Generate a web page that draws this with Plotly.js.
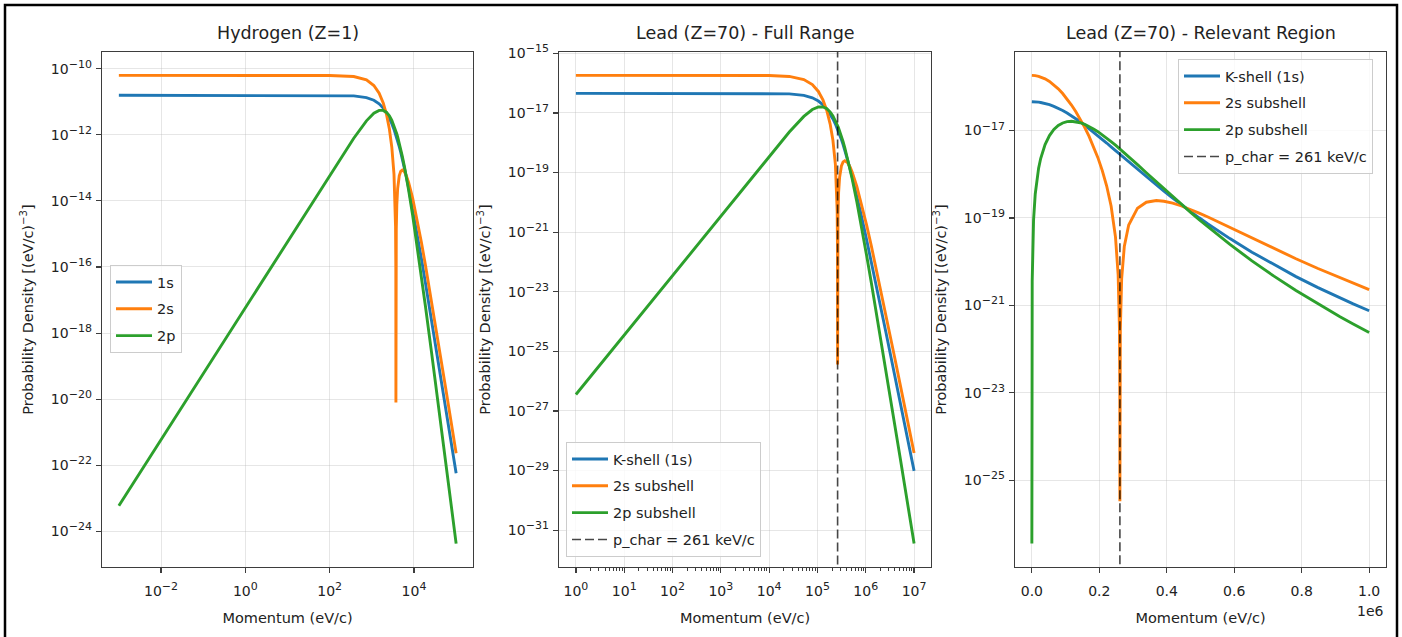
<!DOCTYPE html>
<html><head><meta charset="utf-8">
<script src="https://cdn.plot.ly/plotly-3.0.1.min.js"></script>
<style>html,body{margin:0;padding:0;background:#fff;} #chart{width:1402px;height:637px;}</style>
</head><body><div id="chart"></div>
<script>
// ---------- Hydrogen (Z=1), momentum in eV/c ----------
const hP = [0.001, 0.01, 0.1, 1, 10, 100, 372.9, 745.8, 1118.7, 1491.6, 1864.5, 2237.3, 2610.2, 2983.1, 3356.0, 3542.5, 3654.3, 3710.3, 3728.9, 3747.5, 3803.5, 3915.3, 4101.8, 4474.7, 4847.6, 5273.5, 5966.2, 6712.0, 7457.8, 9322.3, 11187, 14916, 18645, 26102, 37289, 55934, 74578, 100000];
const h1s = [1.5633e-11, 1.5633e-11, 1.5633e-11, 1.5633e-11, 1.5633e-11, 1.5588e-11, 1.5023e-11, 1.3363e-11, 1.1074e-11, 8.634e-12, 6.403e-12, 4.570e-12, 3.172e-12, 2.161e-12, 1.4565e-12, 1.1933e-12, 1.0584e-12, 9.968e-13, 9.771e-13, 9.577e-13, 9.019e-13, 8.000e-13, 6.553e-13, 4.410e-13, 2.9856e-13, 1.930e-13, 9.733e-14, 4.837e-14, 2.501e-14, 5.658e-15, 1.5633e-15, 1.8717e-16, 3.421e-17, 2.501e-18, 1.5023e-19, 5.992e-21, 6.046e-22, 5.795e-23];
const h2s = [6.253e-11, 6.253e-11, 6.253e-11, 6.253e-11, 6.253e-11, 6.217e-11, 5.773e-11, 4.555e-11, 3.088e-11, 1.811e-11, 9.221e-12, 4.048e-12, 1.4863e-12, 4.165e-13, 6.420e-14, 1.2537e-14, 1.7277e-15, 1.0017e-16, 8e-21, 9.530e-17, 1.4144e-15, 7.606e-15, 2.3668e-14, 5.737e-14, 7.858e-14, 8.577e-14, 7.475e-14, 5.400e-14, 3.602e-14, 1.1868e-14, 4.002e-15, 5.828e-16, 1.1659e-16, 9.221e-18, 5.773e-19, 2.3546e-20, 2.3943e-21, 2.307e-22];
const h2p = [5.998e-24, 5.998e-22, 5.998e-20, 5.998e-18, 5.998e-16, 5.969e-14, 7.853e-13, 2.635e-12, 4.474e-12, 5.475e-12, 5.464e-12, 4.743e-12, 3.733e-12, 2.742e-12, 1.9208e-12, 1.5865e-12, 1.4106e-12, 1.3289e-12, 1.3027e-12, 1.2768e-12, 1.2020e-12, 1.0640e-12, 8.658e-13, 5.689e-13, 3.718e-13, 2.2872e-13, 1.0485e-13, 4.649e-14, 2.1343e-14, 3.588e-15, 7.503e-16, 5.527e-17, 6.747e-18, 2.6145e-19, 7.853e-21, 1.4078e-22, 8.020e-24, 4.285e-25];

// ---------- Lead (Z=70), full range (log momentum) ----------
const leadP = [1, 10, 100, 1000, 10000, 26102, 52205, 78307, 104409, 130512, 156614, 182716, 208818, 234921, 247972, 255803, 259718, 261023, 262328, 266243, 274074, 287125, 313228, 339330, 369146, 417637, 469841, 522046, 652558, 783069, 1044092, 1305115, 1827161, 2610230, 3915345, 5220460, 10000000];
const lead1s = [4.5577e-17, 4.5577e-17, 4.5577e-17, 4.5574e-17, 4.5310e-17, 4.3799e-17, 3.8959e-17, 3.2287e-17, 2.5172e-17, 1.8668e-17, 1.3322e-17, 9.248e-18, 6.301e-18, 4.2464e-18, 3.4789e-18, 3.0856e-18, 2.9060e-18, 2.8486e-18, 2.7920e-18, 2.6293e-18, 2.3322e-18, 1.9106e-18, 1.2857e-18, 8.704e-19, 5.627e-19, 2.8376e-19, 1.4102e-19, 7.292e-20, 1.6497e-20, 4.5577e-21, 5.457e-22, 9.974e-23, 7.292e-24, 4.380e-25, 1.7470e-26, 1.7626e-27, 9.790e-30];
const lead2s = [1.8231e-16, 1.8231e-16, 1.8231e-16, 1.8229e-16, 1.8018e-16, 1.6833e-16, 1.3279e-16, 9.003e-17, 5.280e-17, 2.6883e-17, 1.1801e-17, 4.3335e-18, 1.2144e-18, 1.8718e-19, 3.6553e-20, 5.037e-21, 2.9206e-22, 3.6e-26, 2.7784e-22, 4.1239e-21, 2.2174e-20, 6.900e-20, 1.6725e-19, 2.2909e-19, 2.5008e-19, 2.1795e-19, 1.5742e-19, 1.0501e-19, 3.4602e-20, 1.1668e-20, 1.6993e-21, 3.3994e-22, 2.6883e-23, 1.6833e-24, 6.865e-26, 6.981e-27, 3.907e-29];
const lead2p = [3.5676e-27, 3.5676e-25, 3.5676e-23, 3.5675e-21, 3.5362e-19, 2.2897e-18, 7.683e-18, 1.3043e-17, 1.5962e-17, 1.5931e-17, 1.3828e-17, 1.0885e-17, 7.995e-18, 5.600e-18, 4.6256e-18, 4.1127e-18, 3.8745e-18, 3.7980e-18, 3.7226e-18, 3.5046e-18, 3.1023e-18, 2.5243e-18, 1.6587e-18, 1.0841e-18, 6.669e-19, 3.0569e-19, 1.3554e-19, 6.223e-20, 1.0462e-20, 2.1876e-21, 1.6113e-22, 1.9672e-23, 7.623e-25, 2.2897e-26, 4.1045e-28, 2.3383e-29, 3.554e-32];

// ---------- Lead (Z=70), relevant region (linear momentum) ----------
const relP = [1, 1000, 5000, 10000, 20000, 26102, 39153, 52205, 65256, 78307, 91358, 104409, 117460, 130512, 143563, 156614, 169665, 182716, 195767, 208818, 221870, 234921, 247972, 255803, 259718, 260762, 261023, 261284, 262328, 266243, 274074, 287125, 313228, 339330, 369146, 391535, 417637, 443739, 469841, 495944, 522046, 587302, 652558, 717813, 783069, 848325, 913581, 952734, 1000000];
const rel1s = [4.5577e-17, 4.5574e-17, 4.5510e-17, 4.5310e-17, 4.4522e-17, 4.3799e-17, 4.1696e-17, 3.8959e-17, 3.5763e-17, 3.2287e-17, 2.8708e-17, 2.5172e-17, 2.1797e-17, 1.8668e-17, 1.5835e-17, 1.3322e-17, 1.1131e-17, 9.248e-18, 7.6465e-18, 6.301e-18, 5.1773e-18, 4.2464e-18, 3.4789e-18, 3.0856e-18, 2.9060e-18, 2.8600e-18, 2.8486e-18, 2.8372e-18, 2.7920e-18, 2.6293e-18, 2.3322e-18, 1.9106e-18, 1.2857e-18, 8.704e-19, 5.627e-19, 4.0852e-19, 2.8376e-19, 1.9904e-19, 1.4102e-19, 1.0091e-19, 7.292e-20, 3.3739e-20, 1.6497e-20, 8.4789e-21, 4.5577e-21, 2.5500e-21, 1.4787e-21, 1.0831e-21, 7.546e-22];
const rel2s = [1.8231e-16, 1.8229e-16, 1.8178e-16, 1.8018e-16, 1.7396e-16, 1.6833e-16, 1.5243e-16, 1.3279e-16, 1.1137e-16, 9.003e-17, 7.0175e-17, 5.280e-17, 3.8349e-17, 2.6883e-17, 1.8164e-17, 1.1801e-17, 7.3383e-18, 4.3335e-18, 2.3979e-18, 1.2144e-18, 5.3750e-19, 1.8718e-19, 3.6553e-20, 5.037e-21, 2.9206e-22, 1.145e-23, 3.3e-26, 1.134e-23, 2.7784e-22, 4.1239e-21, 2.2174e-20, 6.900e-20, 1.6725e-19, 2.2909e-19, 2.5008e-19, 2.4173e-19, 2.1795e-19, 1.8795e-19, 1.5742e-19, 1.2938e-19, 1.0501e-19, 6.0602e-20, 3.4602e-20, 1.9922e-20, 1.1668e-20, 6.9766e-21, 4.2641e-21, 3.2070e-21, 2.2973e-21];
const rel2p = [3.5676e-27, 3.5675e-21, 8.899e-20, 3.5362e-19, 1.3778e-18, 2.2897e-18, 4.7856e-18, 7.683e-18, 1.0559e-17, 1.3043e-17, 1.4885e-17, 1.5962e-17, 1.6280e-17, 1.5931e-17, 1.5058e-17, 1.3828e-17, 1.2395e-17, 1.0885e-17, 9.3959e-18, 7.995e-18, 6.7238e-18, 5.600e-18, 4.6256e-18, 4.1127e-18, 3.8745e-18, 3.8133e-18, 3.7980e-18, 3.7829e-18, 3.7226e-18, 3.5046e-18, 3.1023e-18, 2.5243e-18, 1.6587e-18, 1.0841e-18, 6.669e-19, 4.6410e-19, 3.0569e-19, 2.0274e-19, 1.3554e-19, 9.1419e-20, 6.223e-20, 2.4785e-20, 1.0462e-20, 4.6644e-21, 2.1876e-21, 1.0745e-21, 5.5026e-22, 3.7515e-22, 2.4032e-22];

// characteristic momentum (eV/c) and its dashed-line extent
const pChar = 261023;
const pCharSpan = [1e-40, 1e-5];

// ---------- tick labels ----------
const SUP = s => '10<sup><span style="font-size:11px">' + s + '</span></sup>';
const hXTicks = [1e-2, 1, 1e2, 1e4];
const hXText = ['−2', '0', '2', '4'].map(SUP);
const hYTicks = [1e-10, 1e-12, 1e-14, 1e-16, 1e-18, 1e-20, 1e-22, 1e-24];
const hYText = ['−10', '−12', '−14', '−16', '−18', '−20', '−22', '−24'].map(SUP);
const lXTicks = [1, 1e1, 1e2, 1e3, 1e4, 1e5, 1e6, 1e7];
const lXText = ['0', '1', '2', '3', '4', '5', '6', '7'].map(SUP);
const lYTicks = [1e-15, 1e-17, 1e-19, 1e-21, 1e-23, 1e-25, 1e-27, 1e-29, 1e-31];
const lYText = ['−15', '−17', '−19', '−21', '−23', '−25', '−27', '−29', '−31'].map(SUP);
const rXTicks = [0, 200000, 400000, 600000, 800000, 1000000];
const rXText = ['0.0', '0.2', '0.4', '0.6', '0.8', '1.0'];
const rYTicks = [1e-17, 1e-19, 1e-21, 1e-23, 1e-25];
const rYText = ['−17', '−19', '−21', '−23', '−25'].map(SUP);

const titles = ['Hydrogen (Z=1)', 'Lead (Z=70) - Full Range', 'Lead (Z=70) - Relevant Region'];
const hNames = ['1s', '2s', '2p'];
const lNames = ['K-shell (1s)', '2s subshell', '2p subshell', 'p_char = 261 keV/c'];

// ---------- styling ----------
const FONT = 'DejaVu Sans';
const C = ['#1f77b4', '#ff7f0e', '#2ca02c'];
const LW = 2.9;
const W = 1402, H = 637;
const px = v => v / W, py = v => 1 - v / H;

function line(x, y, name, color, xa, ya, leg, grp) {
  return {x: x, y: y, name: name, type: 'scatter', mode: 'lines', xaxis: xa, yaxis: ya,
    legend: leg, legendgroup: grp, line: {color: color, width: LW}, hoverinfo: 'skip'};
}
function dash(xa, ya, leg, grp) {
  return {x: [pChar, pChar], y: pCharSpan, name: lNames[3], type: 'scatter', mode: 'lines',
    xaxis: xa, yaxis: ya, legend: leg, legendgroup: grp,
    line: {color: 'rgba(0,0,0,0.72)', width: 1.6, dash: '9px,4px'}, hoverinfo: 'skip'};
}

const traces = [
  line(hP, h1s, hNames[0], C[0], 'x', 'y', 'legend', 'a1'),
  line(hP, h2s, hNames[1], C[1], 'x', 'y', 'legend', 'a2'),
  line(hP, h2p, hNames[2], C[2], 'x', 'y', 'legend', 'a3'),
  line(leadP, lead1s, lNames[0], C[0], 'x2', 'y2', 'legend2', 'b1'),
  line(leadP, lead2s, lNames[1], C[1], 'x2', 'y2', 'legend2', 'b2'),
  line(leadP, lead2p, lNames[2], C[2], 'x2', 'y2', 'legend2', 'b3'),
  dash('x2', 'y2', 'legend2', 'b4'),
  line(relP, rel1s, lNames[0], C[0], 'x3', 'y3', 'legend3', 'c1'),
  line(relP, rel2s, lNames[1], C[1], 'x3', 'y3', 'legend3', 'c2'),
  line(relP, rel2p, lNames[2], C[2], 'x3', 'y3', 'legend3', 'c3'),
  dash('x3', 'y3', 'legend3', 'c4')
];

const axBase = {
  showline: true, mirror: true, linecolor: '#3d3d3d', linewidth: 1.3,
  ticks: 'outside', ticklen: 5, tickwidth: 1.2, tickcolor: '#3d3d3d',
  showgrid: true, gridcolor: 'rgba(176,176,176,0.32)', gridwidth: 1, zeroline: false,
  tickfont: {family: FONT, size: 14, color: '#222'}, tickmode: 'array', automargin: false
};
const xAx = {ticklabelstandoff: 6, title: {text: 'Momentum (eV/c)', font: {family: FONT, size: 14.5, color: '#222'}, standoff: 14}};
const yAx = {ticklabelstandoff: 1, title: {text: 'Probability Density [(eV/c)<sup>−3</sup>]', font: {family: FONT, size: 14.5, color: '#222'}, standoff: 13}};

const minorVals = [];
for (let k = 0; k < 7; k++) for (let m = 2; m < 10; m++) minorVals.push(m * Math.pow(10, k));

const yDom = [1 - 567 / H, 1 - 52 / H];
const doms = [[px(102), px(473)], [px(559), px(931)], [px(1015), px(1386)]];

const legBase = {
  bgcolor: 'rgba(255,255,255,0.8)', bordercolor: '#cccccc', borderwidth: 1,
  font: {family: FONT, size: 14.5, color: '#222'}, tracegroupgap: 5,
  xanchor: 'left', yanchor: 'top', itemwidth: 36, traceorder: 'grouped'
};

const annotations = titles.map((t, i) => ({
  text: t, xref: 'paper', yref: 'paper', x: (doms[i][0] + doms[i][1]) / 2, y: py(33),
  xanchor: 'center', yanchor: 'middle', showarrow: false,
  font: {family: FONT, size: 17.5, color: '#222'}
}));
annotations.push({text: '1e6', xref: 'paper', yref: 'paper', x: doms[2][1], y: py(611),
  xanchor: 'right', yanchor: 'middle', showarrow: false, font: {family: FONT, size: 14, color: '#222'}});

const layout = {
  width: W, height: H, margin: {l: 0, r: 0, t: 0, b: 0},
  paper_bgcolor: '#fff', plot_bgcolor: '#fff', showlegend: true,
  font: {family: FONT, color: '#222'},
  xaxis: Object.assign({}, axBase, xAx, {domain: doms[0], anchor: 'y', type: 'log', range: [-3.4, 5.4], tickvals: hXTicks, ticktext: hXText}),
  yaxis: Object.assign({}, axBase, yAx, {domain: yDom, anchor: 'x', type: 'log', range: [-25.076, -9.496], tickvals: hYTicks, ticktext: hYText}),
  xaxis2: Object.assign({}, axBase, xAx, {domain: doms[1], anchor: 'y2', type: 'log', range: [-0.35, 7.35], tickvals: lXTicks, ticktext: lXText,
    minor: {tickmode: 'array', tickvals: minorVals, ticks: 'outside', ticklen: 3, tickwidth: 1, tickcolor: '#3d3d3d', showgrid: false}}),
  yaxis2: Object.assign({}, axBase, yAx, {domain: yDom, anchor: 'x2', type: 'log', range: [-32.235, -14.954], tickvals: lYTicks, ticktext: lYText}),
  xaxis3: Object.assign({}, axBase, xAx, {domain: doms[2], anchor: 'y3', type: 'linear', range: [-50000, 1050000], tickvals: rXTicks, ticktext: rXText}),
  yaxis3: Object.assign({}, axBase, yAx, {domain: yDom, anchor: 'x3', type: 'log', range: [-26.983, -15.204], tickvals: rYTicks, ticktext: rYText}),
  legend: Object.assign({}, legBase, {x: px(110), y: py(265)}),
  legend2: Object.assign({}, legBase, {x: px(566), y: py(442)}),
  legend3: Object.assign({}, legBase, {x: px(1178), y: py(59)}),
  annotations: annotations,
  shapes: [{type: 'rect', xref: 'paper', yref: 'paper', x0: px(5), x1: px(1397), y0: -0.05, y1: py(5),
    line: {color: '#000', width: 2.5}, fillcolor: 'rgba(0,0,0,0)', layer: 'above'}]
};

Plotly.newPlot('chart', traces, layout, {displayModeBar: false, staticPlot: true});
</script>
</body></html>
